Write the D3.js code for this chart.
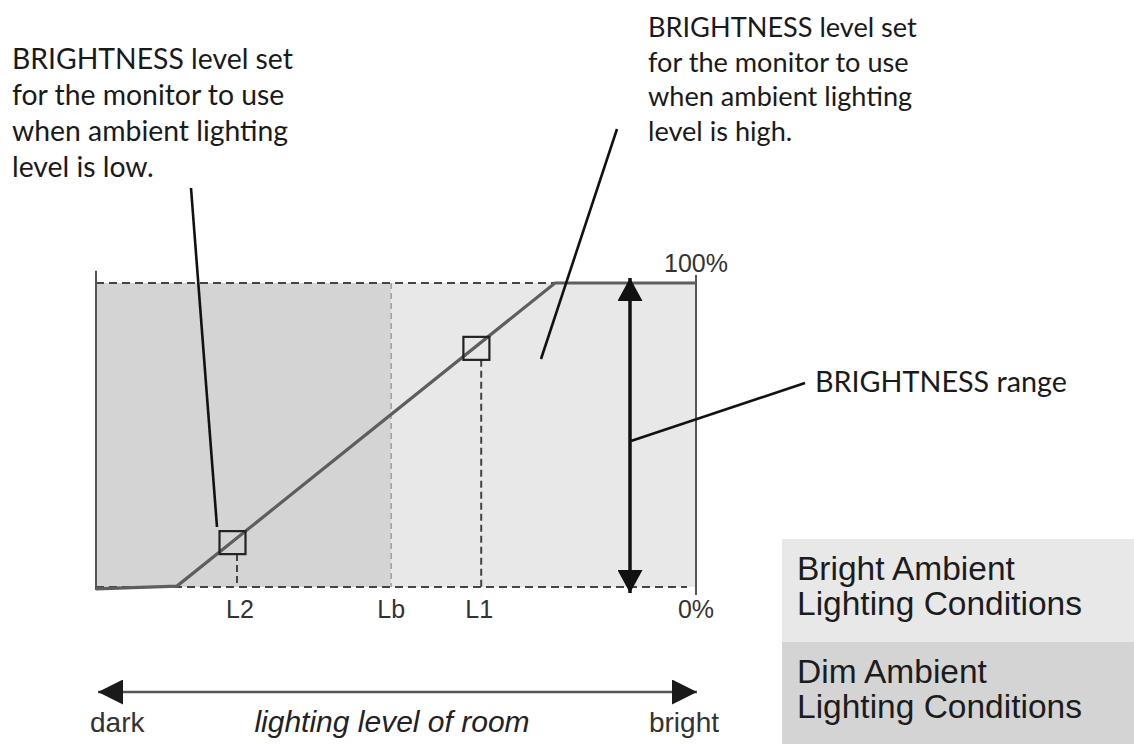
<!DOCTYPE html>
<html><head><meta charset="utf-8">
<script src="https://cdn.jsdelivr.net/npm/d3@7"></script>
<style>html,body{margin:0;padding:0;background:#fff;}svg{display:block;}</style>
</head><body>
<svg id="chart" width="1134" height="745"></svg>
<script>
// ---- data ----
// x: ambient lighting level (0 = dark, 1 = bright); y: brightness (%)
const curveX = [0, 0.135, 0.765, 1];
const curveY = [-0.6, 0.3, 100, 100];
const tickNames = ["L2", "Lb", "L1"];
const tickValues = [0.235, 0.492, 0.642];
const markerX = [0.2275, 0.634];
const markerY = [14.6, 78.5];
const yTickLabels = ["0%", "100%"];
const yTickValues = [0, 100];
const regionNames = ["Dim Ambient Lighting Conditions", "Bright Ambient Lighting Conditions"];
const regionStart = [0, 0.492];
const regionEnd = [0.492, 1];
const regionColors = ["#d4d4d4", "#e8e8e8"];
const annLow = ["BRIGHTNESS level set", "for the monitor to use", "when ambient lighting", "level is low."];
const annHigh = ["BRIGHTNESS level set", "for the monitor to use", "when ambient lighting", "level is high."];
const legendLines = [["Bright Ambient", "Lighting Conditions"], ["Dim Ambient", "Lighting Conditions"]];
const legendColors = ["#e8e8e8", "#d4d4d4"];

const svg = d3.select("#chart");
const x = d3.scaleLinear().domain([0, 1]).range([96, 696]);
const y = d3.scaleLinear().domain([0, 100]).range([587, 283]);
const geo = "Lato, 'Open Sans', sans-serif";
const arial = "'Liberation Sans', Arial, sans-serif";

// defs: arrowheads
const defs = svg.append("defs");
function marker(id, w, h, color) {
  defs.append("marker").attr("id", id).attr("viewBox", `0 0 ${w} ${h}`)
    .attr("refX", w).attr("refY", h / 2).attr("markerWidth", w).attr("markerHeight", h)
    .attr("markerUnits", "userSpaceOnUse").attr("orient", "auto-start-reverse")
    .append("path").attr("d", `M0,0L${w},${h/2}L0,${h}Z`).attr("fill", color);
}
marker("ah", 23, 25, "#111");
marker("ahb", 25, 25, "#1a1a1a");

// regions
svg.selectAll("rect.region").data(regionStart).join("rect").attr("class", "region")
  .attr("x", (d) => x(d)).attr("y", y(100))
  .attr("width", (d, i) => x(regionEnd[i]) - x(d)).attr("height", y(0) - y(100))
  .attr("fill", (d, i) => regionColors[i]);

// Lb boundary dashed (light)
svg.append("line").attr("x1", x(tickValues[1])).attr("x2", x(tickValues[1]))
  .attr("y1", y(100)).attr("y2", y(0))
  .attr("stroke", "#a0a0a0").attr("stroke-width", 1.5).attr("stroke-dasharray", "6,4");

// top & bottom dashed lines
svg.append("line").attr("x1", x(0)).attr("x2", x(0.99)).attr("y1", y(100)).attr("y2", y(100))
  .attr("stroke", "#444").attr("stroke-width", 2.2).attr("stroke-dasharray", "8,5");
svg.append("line").attr("x1", x(0)).attr("x2", x(0.985)).attr("y1", y(0)).attr("y2", y(0))
  .attr("stroke", "#444").attr("stroke-width", 2.2).attr("stroke-dasharray", "8,5");

// left & right solid verticals
svg.append("line").attr("x1", x(0)).attr("x2", x(0)).attr("y1", y(104)).attr("y2", y(-1))
  .attr("stroke", "#555").attr("stroke-width", 2);
svg.append("line").attr("x1", x(1)).attr("x2", x(1)).attr("y1", y(102.6)).attr("y2", y(-2.6))
  .attr("stroke", "#555").attr("stroke-width", 2);

// L1/L2 dashed drop lines
tickValues.forEach((v, i) => {
  if (i === 1) return;
  const mi = i === 0 ? 0 : 1;
  svg.append("line").attr("x1", x(v)).attr("x2", x(v))
    .attr("y1", y(markerY[mi]) + 11.5).attr("y2", y(0))
    .attr("stroke", "#444").attr("stroke-width", 2).attr("stroke-dasharray", "7,4");
});

// curve
const pts = curveX.map((d, i) => [d, curveY[i]]);
svg.append("path").datum(pts)
  .attr("d", d3.line().x((d) => x(d[0])).y((d) => y(d[1])))
  .attr("fill", "none").attr("stroke", "#5e5e5e").attr("stroke-width", 3.2);

// markers (squares)
svg.selectAll("rect.mk").data(markerX).join("rect").attr("class", "mk")
  .attr("x", (d) => x(d) - 13).attr("y", (d, i) => y(markerY[i]) - 11.5)
  .attr("width", 26).attr("height", 23)
  .attr("fill", "none").attr("stroke", "#222").attr("stroke-width", 2.2);

// brightness range double arrow
svg.append("line").attr("x1", 630).attr("x2", 630).attr("y1", y(0) + 6).attr("y2", y(100) - 5)
  .attr("stroke", "#111").attr("stroke-width", 3.5)
  .attr("marker-start", "url(#ah)").attr("marker-end", "url(#ah)");

// leader lines
const leaders = [[191, 188, 217, 527], [617, 129, 541, 359], [631, 441, 805, 383]];
svg.selectAll("line.leader").data(leaders).join("line").attr("class", "leader")
  .attr("x1", (d) => d[0]).attr("y1", (d) => d[1]).attr("x2", (d) => d[2]).attr("y2", (d) => d[3])
  .attr("stroke", "#111").attr("stroke-width", 2.6);

// x tick labels
svg.selectAll("text.xt").data(tickNames).join("text").attr("class", "xt")
  .attr("x", (d, i) => x(tickValues[i]) + (i === 0 ? 3 : (i === 1 ? 0 : -2)))
  .attr("y", 618).attr("text-anchor", "middle")
  .attr("font-family", arial).attr("font-size", 25).attr("fill", "#333").text((d) => d);
// y tick labels
svg.selectAll("text.yt").data(yTickLabels).join("text").attr("class", "yt")
  .attr("x", x(1)).attr("y", (d, i) => i === 0 ? 618 : 272).attr("text-anchor", "middle")
  .attr("font-family", arial).attr("font-size", 25).attr("fill", "#333").text((d) => d);

// annotations with width fitting
function block(lines, x0, y0, lh, target) {
  const g = svg.append("g");
  const t = g.selectAll("text").data(lines).join("text")
    .attr("x", x0).attr("y", (d, i) => y0 + i * lh)
    .attr("font-family", geo).attr("font-size", 26).attr("fill", "#1a1a1a").text((d) => d);
  const w = t.nodes()[0].getComputedTextLength();
  t.attr("font-size", 26 * target / w);
  return g;
}
block(annLow, 12, 69, 36, 281);
block(annHigh, 648, 37, 34.5, 269);
block(["BRIGHTNESS range"], 815, 392, 0, 252);

// bottom arrow
svg.append("line").attr("x1", x(0) + 2).attr("x2", x(1) + 1).attr("y1", 692).attr("y2", 692)
  .attr("stroke", "#555").attr("stroke-width", 2.5)
  .attr("marker-start", "url(#ahb)").attr("marker-end", "url(#ahb)");
svg.append("text").attr("x", 90).attr("y", 732).attr("font-family", arial).attr("font-size", 28)
  .attr("fill", "#333").text("dark");
svg.append("text").attr("x", 719).attr("y", 732).attr("text-anchor", "end").attr("font-family", arial)
  .attr("font-size", 28).attr("fill", "#333").text("bright");
svg.append("text").attr("x", 392).attr("y", 732).attr("text-anchor", "middle").attr("font-family", arial)
  .attr("font-size", 30).attr("font-style", "italic").attr("fill", "#222").text("lighting level of room");

// legend
const lg = svg.append("g");
lg.selectAll("rect").data(legendColors).join("rect")
  .attr("x", 782).attr("y", (d, i) => 539 + i * 103).attr("width", 352).attr("height", (d, i) => i === 0 ? 103 : 102)
  .attr("fill", (d) => d);
legendLines.forEach((ls, i) => {
  lg.selectAll(null).data(ls).join("text")
    .attr("x", 797).attr("y", (d, j) => (i === 0 ? 580 : 683) + j * 35)
    .attr("font-family", arial).attr("font-size", 33.5).attr("fill", "#1c1c1c").text((d) => d);
});
</script>
</body></html>
